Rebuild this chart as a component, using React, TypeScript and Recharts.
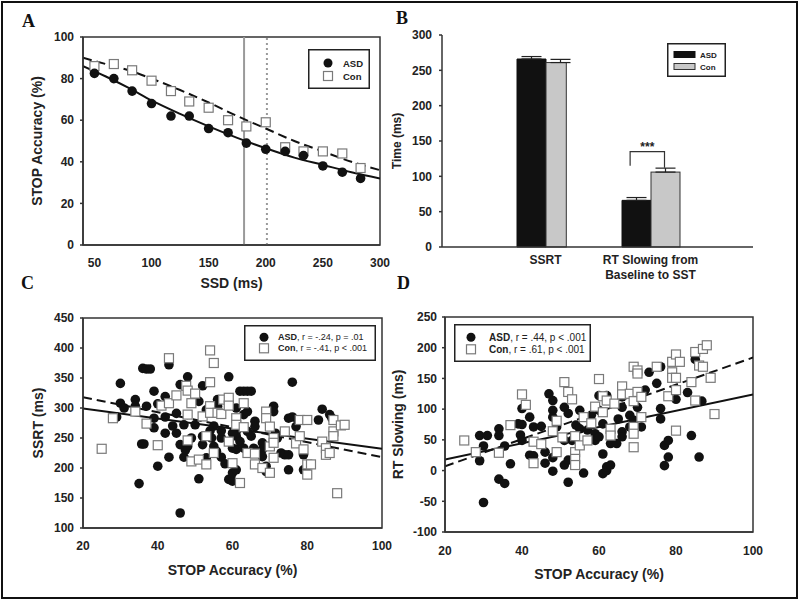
import {
  ComposedChart,
  BarChart,
  Bar,
  Line,
  Scatter,
  XAxis,
  YAxis,
  ErrorBar,
  LabelList,
  ReferenceArea,
  ReferenceLine,
  Legend,
  Label,
} from 'recharts'

const FONT = 'Arial, "Liberation Sans", Helvetica, sans-serif'
const INK = '#222'

// ---- Panel A: STOP accuracy by SSD ----
const ssdValues = [50, 67, 83, 100, 117, 133, 150, 167, 183, 200, 217, 233, 250, 267, 283]
const asdAccuracyBySsd = [82.5, 80, 74, 68, 62, 62, 56, 54, 49, 46, 45, 43, 38, 35, 32]
const conAccuracyBySsd = [86, 87, 84, 79, 74, 69, 66, 60, 57, 59, 47, 45, 45, 44, 37]
const fitSsd = [40, 60, 80, 100, 125, 150, 175, 200, 225, 250, 275, 300]
const asdFitAccuracy = [86, 81, 75.5, 69.5, 63, 57, 51.5, 46.5, 42, 38.5, 35, 32]
const conFitAccuracy = [90, 87, 84, 80, 74.5, 68.5, 62, 56, 50, 45, 40, 36]
const ssdMarkers = [181, 201]

// ---- Panel B: group means ----
const barCategories = ['SSRT', 'RT Slowing from\nBaseline to SST']
const asdMeans = [266, 66]
const conMeans = [261, 106]
const asdSem = [3.5, 4]
const conSem = [4.5, 5.6]
// significance bracket over the RT slowing pair (ms)
const sigTop = 135
const sigLeftFoot = 115
const sigRightFoot = 112

// ---- Panel C: SSRT vs STOP accuracy ----
const asdSsrt: [number, number][] = [
  [30, 341], [30, 308], [31, 300], [29, 285], [34, 314], [34, 303], [36, 366], [37, 365], [38, 365],
  [37, 303], [35.7, 240], [36.3, 240], [35, 174], [39, 328], [39, 283], [39, 267], [40, 307], [40, 203],
  [42, 319], [42, 285], [42, 258], [43, 372], [43, 218], [45, 291], [45, 258], [46, 339], [46, 239],
  [47, 272], [47, 218], [48, 236], [46, 125], [48, 352], [49, 250], [47.4, 230], [51, 311], [52, 337],
  [52, 253], [52, 239], [51, 182], [53, 297], [53, 217], [54.4, 250], [55, 236], [56, 314], [55.7, 228],
  [56, 303], [57, 218], [57, 250], [58, 207], [59, 352], [59, 181], [60, 178], [60, 233], [60, 192],
  [61, 197], [61, 300], [61, 261], [61, 253], [61, 231], [62, 328], [63, 328], [64, 328], [65, 328],
  [63, 289], [64, 294], [62, 244], [63, 233], [64, 261], [65, 253], [66, 278], [66, 269], [65.7, 233],
  [68, 242], [68, 231], [68, 219], [69, 203], [69, 194], [71, 303], [71, 294], [71.5, 258], [72, 250],
  [73, 225], [74, 222], [76, 343], [75, 222], [75, 197], [75, 283], [76, 285], [77, 269], [77.6, 278],
  [79, 197], [79, 222], [79.6, 197], [83, 280], [84, 298], [86, 289], [86.6, 283], [55, 270], [57, 262],
  [59, 244], [60, 258], [62, 268], [50, 272], [44, 270], [54, 262],
]
const conSsrt: [number, number][] = [
  [25, 232], [28, 283], [34, 294], [37, 274], [40, 238], [41, 304], [43, 383], [43, 308], [45, 321],
  [47.6, 337], [48, 329], [48, 289], [48, 246], [49, 308], [49, 211], [50, 324], [51, 214], [52, 286],
  [53, 206], [53, 253], [54, 396], [54, 343], [54, 303], [54, 292], [55, 375], [55, 225], [56, 292],
  [57, 290], [57.5, 314], [59, 317], [59, 304], [59, 244], [60, 208], [61, 283], [61, 272], [62, 175],
  [63, 308], [63, 268], [64, 225], [66, 224], [66, 206], [68, 200], [69, 294], [69, 283], [70, 269],
  [70, 236], [70, 192], [71, 250], [71, 242], [71, 217], [74, 261], [77, 241], [78, 253], [78, 280],
  [79, 231], [80, 206], [80, 189], [80, 280], [81, 206], [84, 244], [85, 233], [85, 222], [86, 225],
  [87, 280], [87, 261], [87, 253], [88, 158], [89, 271], [90, 272],
]
const asdSsrtFit: [number, number][] = [[20, 299], [100, 232]]
const conSsrtFit: [number, number][] = [[20, 318], [100, 218]]

// ---- Panel D: RT slowing vs STOP accuracy ----
const asdSlowing: [number, number][] = [
  [29, 57], [31, 57], [30, 40], [29, 16], [30, -52], [34, 68], [34, 57], [34, -14], [35.5, -21],
  [35.5, 40], [37, 11], [39, 76], [40, 101], [40, 75], [39.6, 58], [40, 49], [42, 87], [42, 25],
  [43, 71], [43, 24], [45, 72], [46, 30], [46, 12], [47, 125], [48, 114], [48, 98], [48, 87], [48, 21],
  [48, -1], [49, 71], [51, 103], [51, 49], [51, 9], [52, 17], [52, -19], [52, 93], [53, 49], [54, 74],
  [55, 98], [55, 68], [56, -4], [57, 66], [58, 90], [59, 60], [59, 49], [60, 122], [60, 98], [60, 55],
  [61, 27], [61, -5], [61, 76], [62, 0], [62, 122], [62, 6], [63, 9], [63, 44], [64.6, 44], [65, 84],
  [66, 120], [66, 103], [66, 63], [66, 55], [68, 90], [68, 71], [69, 82], [70, 103], [71, 71], [72, 131],
  [73, 160], [75, 142], [76, 169], [76, 101], [76, 84], [77, 41], [78, 49], [77, 8], [78, 22], [80, 116],
  [83, 127], [84, 57], [85, 181], [86, 22], [86.7, 113],
]
const conSlowing: [number, number][] = [
  [25, 49], [28, 30], [34, 29], [37, 74], [40, 124], [41, 107], [43, 47], [43, 12], [45, 43], [48, 64],
  [49, 81], [49, 30], [50.5, 54], [51, 144], [52, 128], [53, 116], [53.8, 56], [53.8, 30], [53.8, 19],
  [53.8, 9], [55, 41], [56, 87], [57, 49], [58, 77], [59, 104], [60, 149], [61, 121], [61, 95], [62, 114],
  [63, 68], [63, 57], [64, 109], [66, 137], [66, 124], [68, 125], [69, 169], [69, 113], [69, 71], [69, 60],
  [69, 38], [70, 163], [70, 158], [70, 128], [71, 120], [71, 87], [75, 169], [78, 121], [79, 177],
  [79, 160], [79, 151], [80, 131], [80, 189], [80, 151], [80, 65], [81, 177], [84, 144], [85, 193],
  [85, 114], [86, 171], [87, 198], [87, 169], [88, 204], [89, 151], [90, 92],
]
const asdSlowingFit: [number, number][] = [[20, 18], [100, 124]]
const conSlowingFit: [number, number][] = [[20, 7], [100, 184]]

const accuracyTicks = [20, 40, 60, 80, 100]

const toPoints = (pairs: [number, number][]) => pairs.map(([x, y]) => ({ x, y }))
const zipPoints = (xs: number[], ys: number[]) => xs.map((x, i) => ({ x, y: ys[i] }))

const barData = barCategories.map((name, i) => ({
  name,
  asd: asdMeans[i],
  con: conMeans[i],
  asdErr: [0, asdSem[i]],
  conErr: [0, conSem[i]],
}))

const tickStyle = { fill: INK, fontSize: 12, fontWeight: 'bold', fontFamily: FONT }
const axisStroke = { stroke: '#333', strokeWidth: 1.5 }
const titleStyle = (size: number) => ({
  textAnchor: 'middle' as const,
  fill: INK,
  fontSize: size,
  fontWeight: 'bold',
  fontFamily: FONT,
})

const Dot = (p: any) => <circle cx={p.cx} cy={p.cy} r={4.8} fill="#111" />
const Square = (p: any) => (
  <rect x={p.cx - 4.5} y={p.cy - 4.5} width={9} height={9} fill="#fff" stroke="#7a7a7a" strokeWidth={1.2} />
)

type LegendRow = { kind: 'dot' | 'square' | 'black' | 'gray'; bold: string; rest?: string; y: number }

function LegendBox({ w, h, rows, markerX, textX, fontSize }: {
  w: number; h: number; rows: LegendRow[]; markerX: number; textX: number; fontSize: number
}) {
  return (
    <svg width={w} height={h} style={{ display: 'block' }}>
      <rect x={0.75} y={0.75} width={w - 1.5} height={h - 1.5} fill="#fff" stroke={INK} strokeWidth={1.5} />
      {rows.map((r) => (
        <g key={r.bold}>
          {r.kind === 'dot' && <circle cx={markerX} cy={r.y} r={4.5} fill="#111" />}
          {r.kind === 'square' && (
            <rect x={markerX - 4.5} y={r.y - 4.5} width={9} height={9} fill="#fff" stroke="#7a7a7a" strokeWidth={1.2} />
          )}
          {r.kind === 'black' && <rect x={markerX - 10.5} y={r.y - 3} width={21} height={6} fill="#111" stroke="#111" />}
          {r.kind === 'gray' && <rect x={markerX - 10.5} y={r.y - 3} width={21} height={6} fill="#c8c8c8" stroke="#333" />}
          <text x={textX} y={r.y} dominantBaseline="central" fontFamily={FONT} fontSize={fontSize} fill={INK}>
            <tspan fontWeight="bold">{r.bold}</tspan>
            {r.rest ? <tspan>{r.rest}</tspan> : null}
          </text>
        </g>
      ))}
    </svg>
  )
}

const legendWrapper = (left: number, top: number, w: number, h: number) => ({
  left, top, width: w, height: h, margin: 0, padding: 0,
})

function BarTick({ x, y, payload }: any) {
  const lines = String(payload.value).split('\n')
  return (
    <text x={x} y={y} textAnchor="middle" fill={INK} fontSize={12} fontWeight="bold" fontFamily={FONT}>
      {lines.map((l, i) => (
        <tspan key={i} x={x} dy={i === 0 ? 17 : 15}>{l}</tspan>
      ))}
    </text>
  )
}

const ConBarShape = (p: any) => (
  <rect x={p.x} y={p.y} width={p.index === 0 ? p.width * 0.7 : p.width} height={p.height} fill="#c8c8c8" stroke="#333" strokeWidth={1} />
)

// bracket + stars drawn from the RT slowing Con bar geometry
function SigBracket(p: any) {
  if (p.index !== 1) return null
  const box = p.viewBox && p.viewBox.width != null ? p.viewBox : p
  const { x, y, width, height } = box
  const v = conMeans[1]
  const base = y + height
  const yAt = (val: number) => base - (val * height) / v
  const xl = x - width * 0.72
  const xr = x + width / 2 - 1
  const top = yAt(sigTop)
  return (
    <g>
      <path d={`M${xl},${yAt(sigLeftFoot)}V${top}H${xr}V${yAt(sigRightFoot)}`} fill="none" stroke="#333" strokeWidth={1.2} />
      <text x={(xl + xr) / 2} y={top - 0.5} textAnchor="middle" fill={INK} fontSize={12} fontWeight="bold" fontFamily={FONT}>
        ***
      </text>
    </g>
  )
}

function PanelLetter({ ch, left, top }: { ch: string; left: number; top: number }) {
  return (
    <div style={{ position: 'absolute', left, top, font: 'bold 18px "Liberation Serif", "Times New Roman", serif', color: '#111', lineHeight: 'normal' }}>
      {ch}
    </div>
  )
}

function PanelA() {
  return (
    <ComposedChart width={400} height={300} margin={{ top: 37, right: 20, bottom: 0, left: 0 }}>
      <XAxis type="number" dataKey="x" domain={[40, 300]} ticks={[50, 100, 150, 200, 250, 300]} height={55}
        tickSize={3} tickMargin={10} tick={tickStyle} axisLine={axisStroke} tickLine={false} allowDataOverflow>
        <Label value="SSD (ms)" position="insideBottom" offset={12} style={titleStyle(14)} />
      </XAxis>
      <YAxis type="number" dataKey="y" domain={[0, 100]} ticks={[0, 20, 40, 60, 80, 100]} width={83}
        tickSize={3} tickMargin={6} tick={tickStyle} axisLine={axisStroke} tickLine={axisStroke} allowDataOverflow>
        <Label value="STOP Accuracy (%)" angle={-90} position="insideLeft" offset={37} style={titleStyle(14)} />
      </YAxis>
      <ReferenceArea x1={40} x2={300} y1={0} y2={100} fill="none" fillOpacity={0} stroke="#333" strokeWidth={1.5} />
      <ReferenceLine x={ssdMarkers[0]} stroke="#9a9a9a" strokeWidth={2} />
      <ReferenceLine x={ssdMarkers[1]} stroke="#9a9a9a" strokeWidth={2} strokeDasharray="2 3" />
      <Line data={zipPoints(fitSsd, asdFitAccuracy)} dataKey="y" type="monotone" stroke="#111" strokeWidth={2}
        dot={false} activeDot={false} isAnimationActive={false} />
      <Line data={zipPoints(fitSsd, conFitAccuracy)} dataKey="y" type="monotone" stroke="#111" strokeWidth={2}
        strokeDasharray="9 5" dot={false} activeDot={false} isAnimationActive={false} />
      <Scatter data={zipPoints(ssdValues, conAccuracyBySsd)} shape={Square} isAnimationActive={false} />
      <Scatter data={zipPoints(ssdValues, asdAccuracyBySsd)} shape={Dot} isAnimationActive={false} />
      <Legend layout="horizontal" verticalAlign="middle" align="center" wrapperStyle={legendWrapper(308, 49, 62, 40)}
        content={() => (
          <LegendBox w={62} h={40} markerX={20} textX={35} fontSize={9.5}
            rows={[{ kind: 'dot', bold: 'ASD', y: 14 }, { kind: 'square', bold: 'Con', y: 27 }]} />
        )} />
    </ComposedChart>
  )
}

function PanelB() {
  return (
    <BarChart width={420} height={300} data={barData} margin={{ top: 35, right: 47, bottom: 0, left: 0 }}
      barGap={0} barSize={29}>
      <XAxis dataKey="name" type="category" padding={{ left: 51, right: 50 }} height={53} tickSize={0} tickMargin={0}
        tick={<BarTick />} axisLine={axisStroke} tickLine={false} interval={0} />
      <XAxis xAxisId="top" dataKey="name" type="category" orientation="top" height={0} tick={false}
        tickLine={false} axisLine={axisStroke} />
      <YAxis type="number" domain={[0, 300]} ticks={[0, 50, 100, 150, 200, 250, 300]} width={62}
        tickSize={3} tickMargin={7} tick={tickStyle} axisLine={axisStroke} tickLine={axisStroke}>
        <Label value="Time (ms)" angle={-90} position="insideLeft" offset={17} style={titleStyle(12)} />
      </YAxis>
      <YAxis yAxisId="right" type="number" orientation="right" domain={[0, 300]} width={0} tick={false}
        tickLine={false} axisLine={axisStroke} />
      <Bar dataKey="asd" fill="#111" stroke="#111" isAnimationActive={false}>
        <ErrorBar dataKey="asdErr" width={10} stroke={INK} strokeWidth={1.2} direction="y" />
      </Bar>
      <Bar dataKey="con" shape={ConBarShape} isAnimationActive={false}>
        <ErrorBar dataKey="conErr" width={10} stroke={INK} strokeWidth={1.2} direction="y" />
        <LabelList dataKey="con" content={SigBracket} />
      </Bar>
      <Legend layout="horizontal" verticalAlign="middle" align="center" wrapperStyle={legendWrapper(287, 43, 59, 34)}
        content={() => (
          <LegendBox w={59} h={34} markerX={17.5} textX={33} fontSize={8}
            rows={[{ kind: 'black', bold: 'ASD', y: 11.5 }, { kind: 'gray', bold: 'Con', y: 23.5 }]} />
        )} />
    </BarChart>
  )
}

function ScatterPanel(props: {
  width: number
  margin: { top: number; right: number; bottom: number; left: number }
  yDomain: [number, number]
  yTicks: number[]
  yWidth: number
  yTickMargin: number
  xHeight: number
  xTickMargin: number
  xLabelOffset: number
  yLabel: string
  yLabelOffset: number
  asd: [number, number][]
  con: [number, number][]
  asdFit: [number, number][]
  conFit: [number, number][]
  legend: { left: number; top: number; w: number; h: number; markerX: number; textX: number; fontSize: number; y1: number; y2: number; asdRest: string; conRest: string }
}) {
  const lg = props.legend
  return (
    <ComposedChart width={props.width} height={302} margin={props.margin}>
      <XAxis type="number" dataKey="x" domain={[20, 100]} ticks={accuracyTicks} height={props.xHeight}
        tickSize={3} tickMargin={props.xTickMargin} tick={tickStyle} axisLine={axisStroke} tickLine={false} allowDataOverflow>
        <Label value="STOP Accuracy (%)" position="insideBottom" offset={props.xLabelOffset} style={titleStyle(14)} />
      </XAxis>
      <YAxis type="number" dataKey="y" domain={props.yDomain} ticks={props.yTicks} width={props.yWidth}
        tickSize={3} tickMargin={props.yTickMargin} tick={tickStyle} axisLine={axisStroke} tickLine={axisStroke} allowDataOverflow>
        <Label value={props.yLabel} angle={-90} position="insideLeft" offset={props.yLabelOffset} style={titleStyle(14)} />
      </YAxis>
      <ReferenceArea x1={20} x2={100} y1={props.yDomain[0]} y2={props.yDomain[1]} fill="none" fillOpacity={0}
        stroke="#333" strokeWidth={1.5} />
      <Scatter data={toPoints(props.asd)} shape={Dot} isAnimationActive={false} />
      <Scatter data={toPoints(props.con)} shape={Square} isAnimationActive={false} />
      <Line data={toPoints(props.asdFit)} dataKey="y" type="linear" stroke="#111" strokeWidth={2}
        dot={false} activeDot={false} isAnimationActive={false} />
      <Line data={toPoints(props.conFit)} dataKey="y" type="linear" stroke="#111" strokeWidth={2}
        strokeDasharray="9 5" dot={false} activeDot={false} isAnimationActive={false} />
      <Legend layout="horizontal" verticalAlign="middle" align="center" wrapperStyle={legendWrapper(lg.left, lg.top, lg.w, lg.h)}
        content={() => (
          <LegendBox w={lg.w} h={lg.h} markerX={lg.markerX} textX={lg.textX} fontSize={lg.fontSize}
            rows={[
              { kind: 'dot', bold: 'ASD', rest: lg.asdRest, y: lg.y1 },
              { kind: 'square', bold: 'Con', rest: lg.conRest, y: lg.y2 },
            ]} />
        )} />
    </ComposedChart>
  )
}

export default function App() {
  return (
    <div style={{ position: 'absolute', left: 0, top: 0, width: 800, height: 602, background: '#fff', overflow: 'hidden' }}>
      <div style={{ position: 'absolute', left: 1, top: 1, width: 797, height: 598, border: '2px solid #111', boxSizing: 'border-box' }} />
      <div style={{ position: 'absolute', left: 0, top: 0 }}>
        <PanelA />
      </div>
      <div style={{ position: 'absolute', left: 380, top: 0 }}>
        <PanelB />
      </div>
      <div style={{ position: 'absolute', left: 0, top: 300 }}>
        <ScatterPanel
          width={400}
          margin={{ top: 18, right: 18, bottom: 0, left: 0 }}
          yDomain={[100, 450]}
          yTicks={[100, 150, 200, 250, 300, 350, 400, 450]}
          yWidth={83}
          yTickMargin={6}
          xHeight={74}
          xTickMargin={10}
          xLabelOffset={27}
          yLabel="SSRT (ms)"
          yLabelOffset={38}
          asd={asdSsrt}
          con={conSsrt}
          asdFit={asdSsrtFit}
          conFit={conSsrtFit}
          legend={{ left: 244, top: 25, w: 132, h: 36, markerX: 20, textX: 34, fontSize: 9, y1: 12.3, y2: 23.3,
            asdRest: ', r = -.24, p = .01', conRest: ', r = -.41, p < .001' }}
        />
      </div>
      <div style={{ position: 'absolute', left: 380, top: 300 }}>
        <ScatterPanel
          width={420}
          margin={{ top: 17, right: 47, bottom: 0, left: 0 }}
          yDomain={[-100, 250]}
          yTicks={[-100, -50, 0, 50, 100, 150, 200, 250]}
          yWidth={65}
          yTickMargin={5}
          xHeight={70}
          xTickMargin={11}
          xLabelOffset={23}
          yLabel="RT Slowing (ms)"
          yLabelOffset={18}
          asd={asdSlowing}
          con={conSlowing}
          asdFit={asdSlowingFit}
          conFit={conSlowingFit}
          legend={{ left: 74, top: 24, w: 137, h: 38, markerX: 17, textX: 35, fontSize: 10, y1: 13.3, y2: 25.3,
            asdRest: ', r = .44, p < .001', conRest: ', r = .61, p < .001' }}
        />
      </div>
      <PanelLetter ch="A" left={22} top={11} />
      <PanelLetter ch="B" left={396} top={8} />
      <PanelLetter ch="C" left={21} top={273} />
      <PanelLetter ch="D" left={397} top={273} />
    </div>
  )
}
